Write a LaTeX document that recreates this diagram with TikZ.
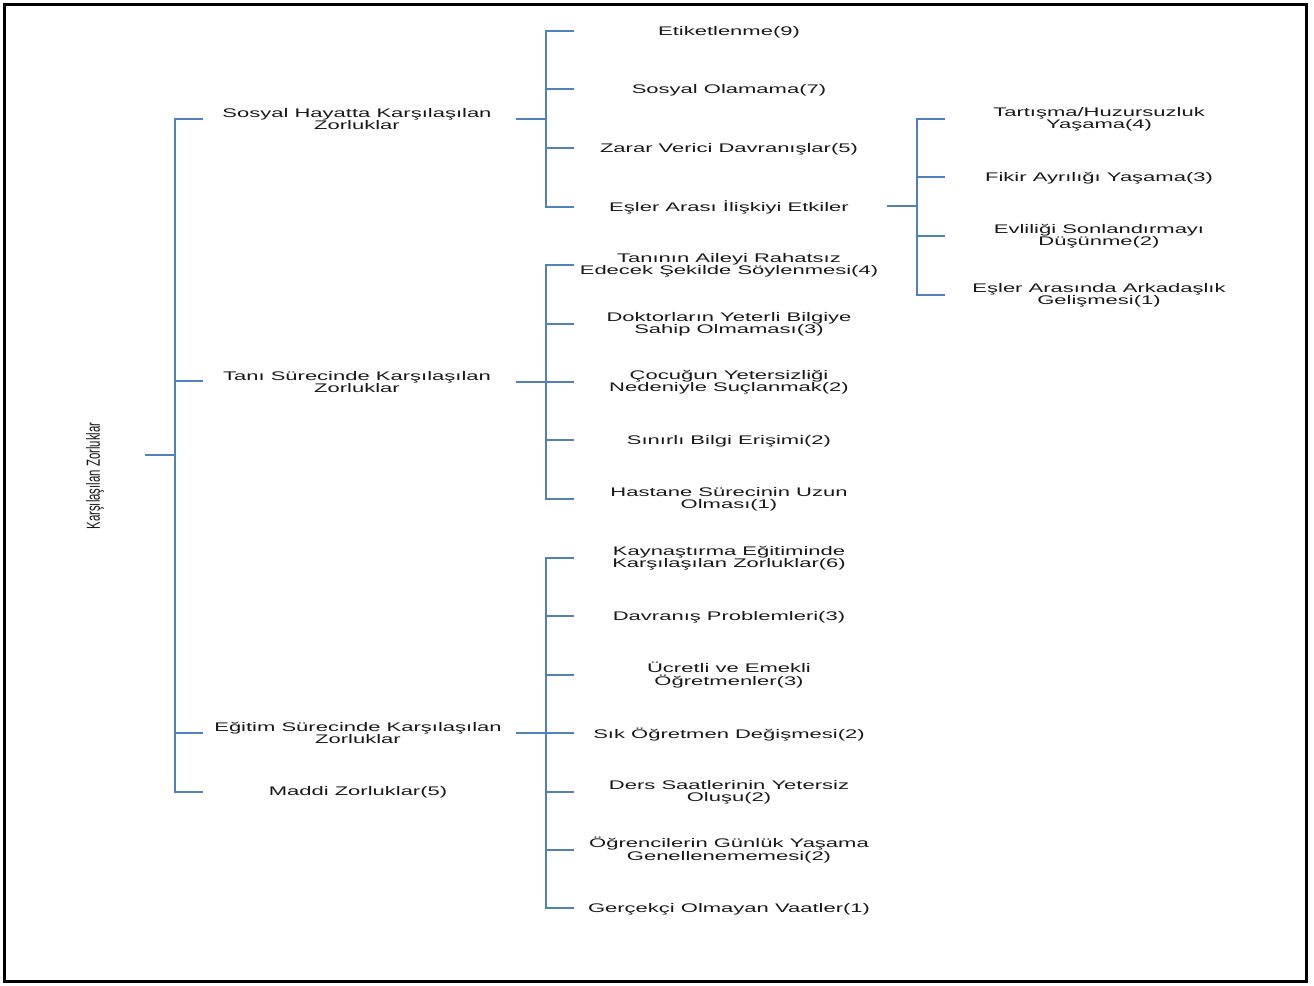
\documentclass[tikz,border=0pt]{standalone}
\usepackage{fontspec}
\setmainfont{Liberation Sans}
\usepackage{graphicx}
\definecolor{linkblue}{RGB}{79,129,189}
\definecolor{textgray}{RGB}{25,25,25}
% wide, centred label text (one or more lines separated by \\)
\newcommand\wide[1]{\scalebox{1.76}[1]{\begin{tabular}{@{}c@{}}#1\end{tabular}}}
\tikzset{
  link/.style={draw=linkblue, line width=1.5pt},
  rootlbl/.style={inner sep=0pt, text=textgray},
  lbl/.style={inner sep=0pt, text=textgray, yshift=-2.5pt,
    font=\fontsize{12.5}{11}\selectfont},
}
\begin{document}
\begin{tikzpicture}[x=1pt, y=-1pt]
\useasboundingbox (0,0) rectangle (1314,985);
\draw[line width=3pt] (4.5,4.5) rectangle (1306,981.5);

% root
\node[rootlbl, rotate=90] (root) at (95,476)
  {\scalebox{0.6}[1]{\fontsize{19}{19}\selectfont Karşılaşılan Zorluklar}};
\coordinate (r0) at (145,455);
\coordinate (r1) at (175,455);

% level 1
\node[lbl] (sos) at (357,118) {\wide{Sosyal Hayatta Karşılaşılan\\Zorluklar}};
\node[lbl] (tan) at (357,381) {\wide{Tanı Sürecinde Karşılaşılan\\Zorluklar}};
\node[lbl] (egi) at (358,732) {\wide{Eğitim Sürecinde Karşılaşılan\\Zorluklar}};
\node[lbl] (mad) at (358,790) {\wide{Maddi Zorluklar(5)}};
\coordinate (t-sos) at (203,119);
\coordinate (t-tan) at (203,381);
\coordinate (t-egi) at (203,733);
\coordinate (t-mad) at (203,792);
\draw[link] (r0) -- (r1);
\foreach \t in {sos,tan,egi,mad} \draw[link] (r1) |- (t-\t);

% level 2: social life
\node[lbl] (a1) at (729,30)  {\wide{Etiketlenme(9)}};
\node[lbl] (a2) at (729,88)  {\wide{Sosyal Olamama(7)}};
\node[lbl] (a3) at (729,147) {\wide{Zarar Verici Davranışlar(5)}};
\node[lbl] (a4) at (729,205) {\wide{Eşler Arası İlişkiyi Etkiler}};
\coordinate (s-sos) at (516,119);
\coordinate (j-sos) at (546,119);
\coordinate (t-a1) at (574,31);
\coordinate (t-a2) at (574,89);
\coordinate (t-a3) at (574,148);
\coordinate (t-a4) at (574,207);
\draw[link] (s-sos) -- (j-sos);
\foreach \t in {a1,a2,a3,a4} \draw[link] (j-sos) |- (t-\t);

% level 2: diagnosis
\node[lbl] (b1) at (729,263) {\wide{Tanının Aileyi Rahatsız\\Edecek Şekilde Söylenmesi(4)}};
\node[lbl] (b2) at (729,322) {\wide{Doktorların Yeterli Bilgiye\\Sahip Olmaması(3)}};
\node[lbl] (b3) at (729,380) {\wide{Çocuğun Yetersizliği\\Nedeniyle Suçlanmak(2)}};
\node[lbl] (b4) at (729,439) {\wide{Sınırlı Bilgi Erişimi(2)}};
\node[lbl] (b5) at (729,497) {\wide{Hastane Sürecinin Uzun\\Olması(1)}};
\coordinate (s-tan) at (516,382);
\coordinate (j-tan) at (546,382);
\coordinate (t-b1) at (574,265);
\coordinate (t-b2) at (574,324);
\coordinate (t-b3) at (574,382);
\coordinate (t-b4) at (574,440);
\coordinate (t-b5) at (574,499);
\draw[link] (s-tan) -- (j-tan);
\foreach \t in {b1,b2,b3,b4,b5} \draw[link] (j-tan) |- (t-\t);

% level 2: education
\node[lbl] (c1) at (729,556) {\wide{Kaynaştırma Eğitiminde\\Karşılaşılan Zorluklar(6)}};
\node[lbl] (c2) at (729,615) {\wide{Davranış Problemleri(3)}};
\node[lbl] (c3) at (729,673) {\wide{Ücretli ve Emekli\\Öğretmenler(3)}};
\node[lbl] (c4) at (729,732) {\wide{Sık Öğretmen Değişmesi(2)}};
\node[lbl] (c5) at (729,790) {\wide{Ders Saatlerinin Yetersiz\\Oluşu(2)}};
\node[lbl] (c6) at (729,848) {\wide{Öğrencilerin Günlük Yaşama\\Genellenememesi(2)}};
\node[lbl] (c7) at (729,907) {\wide{Gerçekçi Olmayan Vaatler(1)}};
\coordinate (s-egi) at (516,733);
\coordinate (j-egi) at (546,733);
\coordinate (t-c1) at (574,558);
\coordinate (t-c2) at (574,616);
\coordinate (t-c3) at (574,675);
\coordinate (t-c4) at (574,733);
\coordinate (t-c5) at (574,792);
\coordinate (t-c6) at (574,850);
\coordinate (t-c7) at (574,908);
\draw[link] (s-egi) -- (j-egi);
\foreach \t in {c1,c2,c3,c4,c5,c6,c7} \draw[link] (j-egi) |- (t-\t);

% level 3: spouses
\node[lbl] (d1) at (1099,117) {\wide{Tartışma/Huzursuzluk\\Yaşama(4)}};
\node[lbl] (d2) at (1099,176) {\wide{Fikir Ayrılığı Yaşama(3)}};
\node[lbl] (d3) at (1099,234) {\wide{Evliliği Sonlandırmayı\\Düşünme(2)}};
\node[lbl] (d4) at (1099,293) {\wide{Eşler Arasında Arkadaşlık\\Gelişmesi(1)}};
\coordinate (s-a4) at (887,206);
\coordinate (j-a4) at (917,206);
\coordinate (t-d1) at (945,119);
\coordinate (t-d2) at (945,177);
\coordinate (t-d3) at (945,236);
\coordinate (t-d4) at (945,295);
\draw[link] (s-a4) -- (j-a4);
\foreach \t in {d1,d2,d3,d4} \draw[link] (j-a4) |- (t-\t);
\end{tikzpicture}
\end{document}
